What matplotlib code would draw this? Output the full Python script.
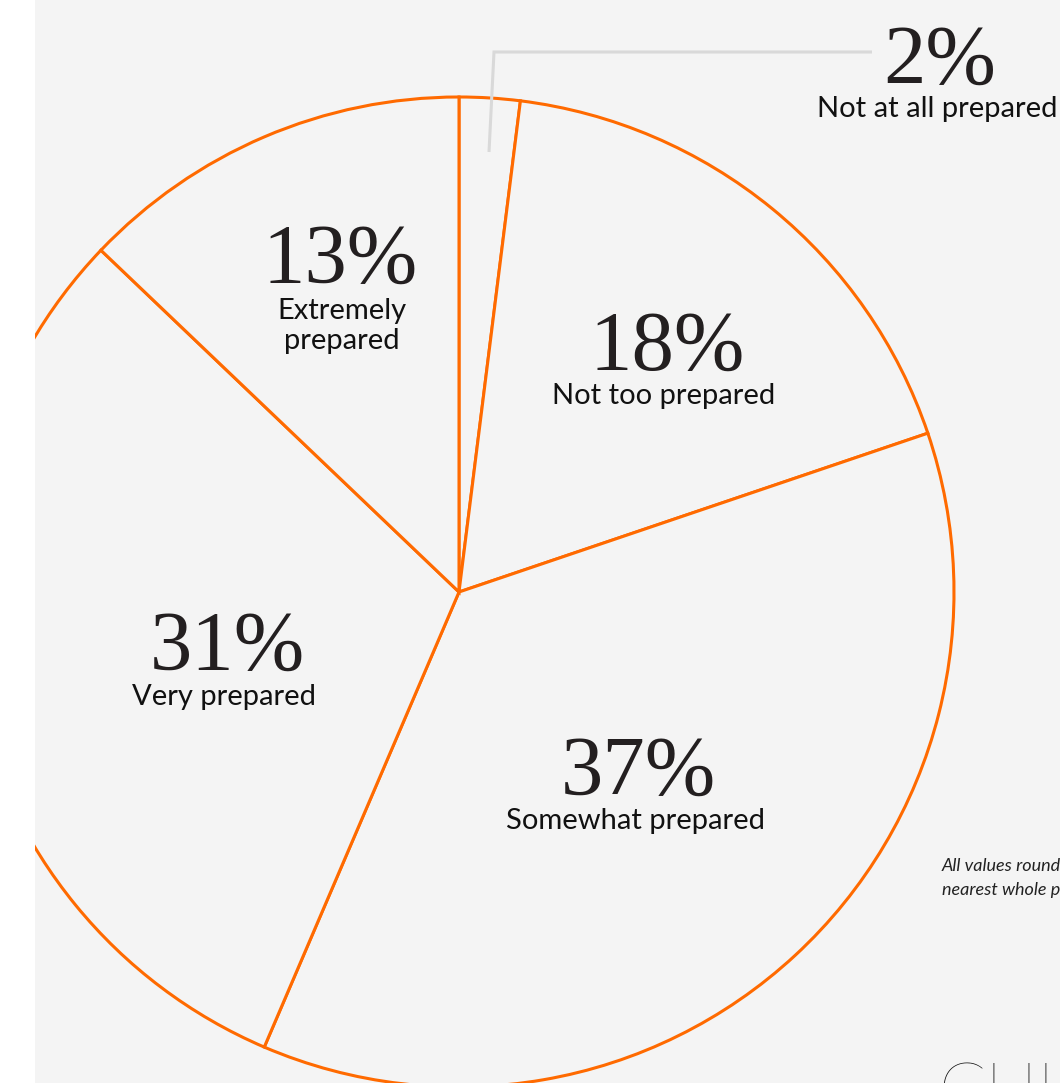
import matplotlib
matplotlib.use("Agg")
import matplotlib.pyplot as plt

categories = ["Not at all prepared", "Not too prepared", "Somewhat prepared",
              "Very prepared", "Extremely prepared"]
values = [2, 18, 37, 31, 13]
pct_labels = ["2%", "18%", "37%", "31%", "13%"]
cat_labels = ["Not at all prepared", "Not too prepared", "Somewhat prepared",
              "Very prepared", "Extremely\nprepared"]

W, H = 1060, 1083
BG = "#f4f4f4"
ORANGE = "#ff6a00"
DARK = "#231f20"

fig = plt.figure(figsize=(W / 100, H / 100), dpi=100)
fig.patch.set_facecolor("white")
ax = fig.add_axes([35 / W, 0, (W - 35) / W, 1])
ax.set_facecolor(BG)

cx, cy, r = 459, H - 592, 495
wedges, _ = ax.pie(values, startangle=90, counterclock=False, center=(cx, cy),
                   radius=r, frame=True,
                   wedgeprops=dict(facecolor=BG, edgecolor=ORANGE, linewidth=2.2))
for w in wedges:
    w.set_clip_on(True)
    w.set_clip_path(ax.patch)
ax.set_xlim(35, W)
ax.set_ylim(0, H)
ax.set_aspect("equal")
ax.set_xticks([])
ax.set_yticks([])
for s in ax.spines.values():
    s.set_visible(False)

# label placement (pixel coords: x centre, percentage baseline y, label centre y)
pos = {
    0: (940, 84, 109),
    1: (667, 370, 396),
    2: (638, 795, 821),
    3: (227, 670, 697),
    4: (340, 283, 326),
}
serif = ["Liberation Serif", "DejaVu Serif"]
sans = ["Lato", "DejaVu Sans"]
for i in range(len(values)):
    x, pb, lc = pos[i]
    ax.text(x, H - pb, pct_labels[i], ha="center", va="baseline",
            fontsize=61, family=serif, color=DARK)
    ax.text(x + (-3 if i != 4 else 2), H - lc, cat_labels[i], ha="center",
            va="center", fontsize=21, family=sans,
            color="#111111", linespacing=1.15)

# leader line for the 2% slice
ax.plot([489, 494, 872], [H - 152, H - 52, H - 52], color="#d9d9d9",
        lw=2.2, solid_capstyle="butt", solid_joinstyle="miter")

# footnote
ax.text(942, H - 866, "All values rounded to the", ha="left", va="center",
        fontsize=13, style="italic", family=sans, color="#222222")
ax.text(942, H - 890, "nearest whole percentage.", ha="left", va="center",
        fontsize=13, style="italic", family=sans, color="#222222")

# logo (cut off at bottom)
ax.text(938, H - 1063, "CHIEF", ha="left", va="top", fontsize=50,
        fontweight="light", family=sans, color="#111111")

fig.savefig("out.png", dpi=100, facecolor=fig.get_facecolor())
